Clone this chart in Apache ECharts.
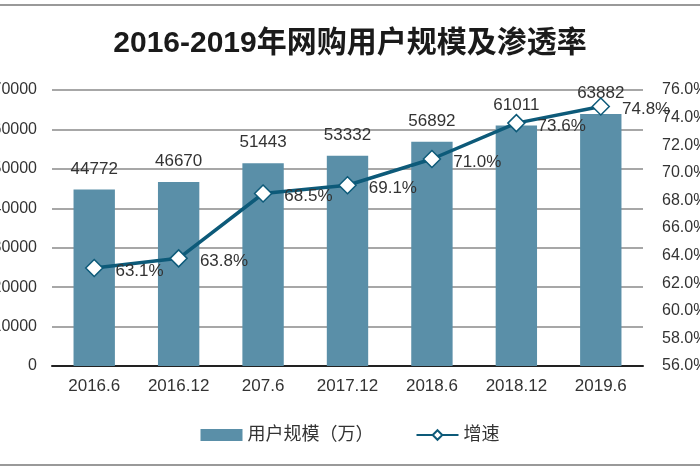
<!DOCTYPE html>
<html>
<head>
<meta charset="utf-8">
<script src="https://cdn.jsdelivr.net/npm/echarts@6/dist/echarts.min.js"></script>
<style>html,body{margin:0;padding:0;background:#fff;}#c{width:700px;height:470px;}</style>
</head>
<body>
<div id="c"></div>
<script>
var categories = ['2016.6', '2016.12', '207.6', '2017.12', '2018.6', '2018.12', '2019.6'];
var users = [44772, 46670, 51443, 53332, 56892, 61011, 63882];
var rate = [63.1, 63.8, 68.5, 69.1, 71.0, 73.6, 74.8];
var titleText = '2016-2019年网购用户规模及渗透率';
var seriesNames = ['用户规模（万）', '增速'];

var FONT = '"Liberation Sans", Arial, "Noto Sans CJK SC", sans-serif';
var chart = echarts.init(document.getElementById('c'));
chart.setOption({
  backgroundColor: '#fff',
  animation: false,
  title: {
    text: titleText, left: 'center', top: 24,
    textStyle: { fontSize: 30, fontWeight: 'bold', color: '#1a1a1a', fontFamily: FONT }
  },
  graphic: [
    { type: 'line', shape: { x1: 0, y1: 5, x2: 700, y2: 5 }, style: { stroke: '#999', lineWidth: 2 } },
    { type: 'line', shape: { x1: 0, y1: 465, x2: 700, y2: 465 }, style: { stroke: '#999', lineWidth: 2 } }
  ],
  legend: {
    data: [
      { name: seriesNames[0], icon: 'rect' },
      { name: seriesNames[1] }
    ],
    left: 'center', top: 421, itemWidth: 42, itemHeight: 12, itemGap: 42,
    textStyle: { fontSize: 18, color: '#333', fontFamily: FONT }
  },
  grid: { left: 52, right: 57, top: 90, bottom: 104, containLabel: false, outerBoundsMode: 'none' },
  xAxis: {
    type: 'category', data: categories,
    axisLine: { lineStyle: { color: '#222', width: 2 } },
    axisTick: { show: false },
    axisLabel: { fontSize: 17, color: '#333', margin: 12, fontFamily: FONT }
  },
  yAxis: [
    {
      type: 'value', min: 0, max: 70000, interval: 10000,
      axisLine: { show: false }, axisTick: { show: false },
      splitLine: { lineStyle: { color: '#8a8a8a', width: 1.5 } },
      axisLabel: { fontSize: 16, color: '#333', margin: 15, fontFamily: FONT,
        formatter: function (v) { return String(v); } }
    },
    {
      type: 'value', min: 56, max: 76, interval: 2,
      axisLine: { show: false }, axisTick: { show: false },
      splitLine: { show: false },
      axisLabel: { fontSize: 16, color: '#333', margin: 19, fontFamily: FONT,
        formatter: function (v) { return v.toFixed(1) + '%'; } }
    }
  ],
  series: [
    {
      name: seriesNames[0], type: 'bar', data: users, barWidth: '49%',
      itemStyle: { color: '#5a8fa8' },
      label: { show: true, position: 'top', distance: 12, fontSize: 17, color: '#333', fontFamily: FONT }
    },
    {
      name: seriesNames[1], type: 'line', yAxisIndex: 1, data: rate,
      symbol: 'diamond', symbolSize: 17, showAllSymbol: true,
      lineStyle: { color: '#0d5a79', width: 3.5 },
      itemStyle: { color: '#fff', borderColor: '#0d5a79', borderWidth: 1.5 },
      label: { show: true, position: 'right', distance: 12, offset: [0, 3], fontSize: 17, color: '#333', fontFamily: FONT,
        formatter: function (p) { return p.value.toFixed(1) + '%'; } }
    }
  ]
});
</script>
</body>
</html>
